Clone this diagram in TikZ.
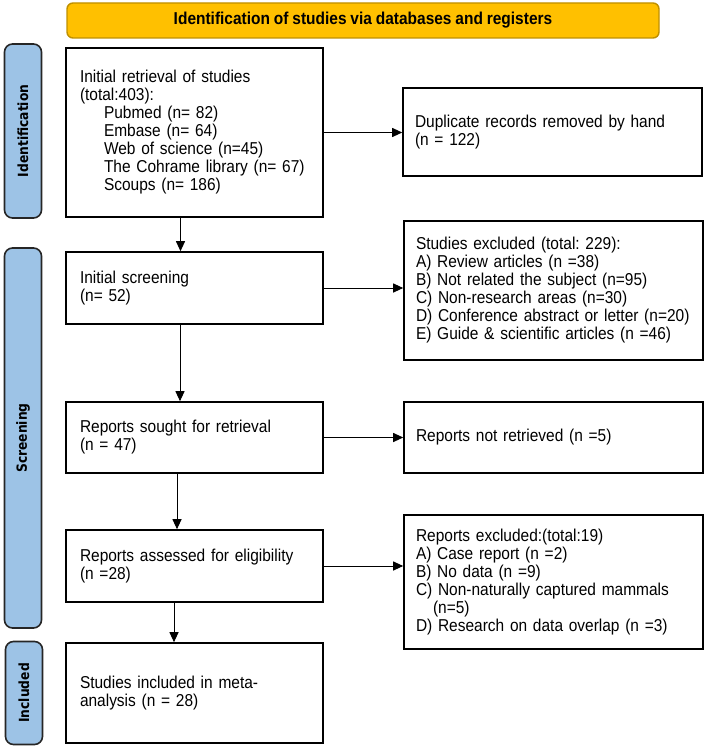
\documentclass[tikz,border=0pt]{standalone}
\usepackage{fontspec}
\setmainfont{Liberation Sans}[FakeStretch=0.9, WordSpace=0.9]
\newfontfamily\sidefont{DejaVu Sans}[FakeStretch=0.88]
\usetikzlibrary{arrows.meta,positioning}
\definecolor{bannerfill}{HTML}{FFC000}
\definecolor{bannerdraw}{HTML}{BF9000}
\definecolor{sidefill}{HTML}{9DC3E6}
\frenchspacing

\begin{document}
\begin{tikzpicture}[x=1pt, y=-1pt,
      arr/.style={-{Triangle[length=10pt,width=9pt]}, line width=1pt},
      box/.style={draw, line width=1.6pt, text width=229pt, inner xsep=14pt,
                  inner ysep=0pt, align=left, font=\fontsize{17.2}{18}\selectfont},
      boxR/.style={draw, line width=1.6pt, text width=275pt, inner xsep=12pt,
                   inner ysep=0pt, align=left, font=\fontsize{17.2}{18}\selectfont},
      banner/.style={rounded corners=6pt, fill=bannerfill, draw=bannerdraw,
                     line width=1.4pt, minimum width=592pt, minimum height=35pt,
                     font=\bfseries\fontsize{17.2}{18}\selectfont},
      side/.style={rounded corners=8pt, fill=sidefill, draw=black!85,
                   line width=1.6pt, rotate=90, minimum height=37pt,
                   font=\sidefont\bfseries\fontsize{14}{16}\selectfont},
    ]
    \useasboundingbox (0,0) rectangle (708,749);

    \node[banner] (top) at (363,20.5) {Identification of studies via databases and registers};

    \node[side, minimum width=174pt] (lid)  at (23,131) {Identification};
    \node[side, minimum width=380pt] (lscr) at (23,438) {Screening};
    \node[side, minimum width=103pt] (linc) at (24,693) {Included};

    \node[box, minimum height=169pt] (s1) at (194.5,132.5) {Initial retrieval of studies\\
      (total:403):\\
      \hspace*{24pt}Pubmed (n= 82)\\
      \hspace*{24pt}Embase (n= 64)\\
      \hspace*{24pt}Web of science (n=45)\\
      \hspace*{24pt}The Cohrame library (n= 67)\\
      \hspace*{24pt}Scoups (n= 186)};
    \node[boxR, minimum height=88pt] (r1) at (552.5,132) {Duplicate records removed by hand\\ (n = 122)};

    \node[box, minimum height=72pt] (s2) at (194.5,288) {Initial screening\\ (n= 52)};
    \node[boxR, minimum height=139pt] (r2) at (553.5,290.5) {Studies excluded (total: 229):\\
      A) Review articles (n =38)\\
      B) Not related the subject (n=95)\\
      C) Non-research areas (n=30)\\
      D) Conference abstract or letter (n=20)\\
      E) Guide \& scientific articles (n =46)};

    \node[box, minimum height=71pt] (s3) at (194.5,437.5) {Reports sought for retrieval\\ (n = 47)};
    \node[boxR, minimum height=71pt] (r3) at (553.5,437.5) {Reports not retrieved (n =5)};

    \node[box, minimum height=72pt] (s4) at (194.5,566) {Reports assessed for eligibility\\ (n =28)};
    \node[boxR, minimum height=134pt] (r4) at (553.5,582) {Reports excluded:(total:19)\\
      A) Case report (n =2)\\
      B) No data (n =9)\\
      C) Non-naturally captured mammals\\
      \hspace*{17pt}(n=5)\\
      D) Research on data overlap (n =3)};

    \node[box, minimum height=100pt] (s5) at (194.5,693) {Studies included in meta-\\ analysis (n = 28)};

    \draw[arr] (s1.east) -- (s1.east -| r1.west);
    \draw[arr] (s2.east) -- (s2.east -| r2.west);
    \draw[arr] (s3.east) -- (s3.east -| r3.west);
    \draw[arr] (s4.east) -- (s4.east -| r4.west);

    \draw[arr] ([xshift=-14pt]s1.south) -- ([xshift=-14pt]s2.north);
    \draw[arr] ([xshift=-14.5pt]s2.south) -- ([xshift=-14.5pt]s3.north);
    \draw[arr] ([xshift=-17.5pt]s3.south) -- ([xshift=-17.5pt]s4.north);
    \draw[arr] ([xshift=-20.5pt]s4.south) -- ([xshift=-20.5pt]s5.north);
  \end{tikzpicture}
\end{document}
